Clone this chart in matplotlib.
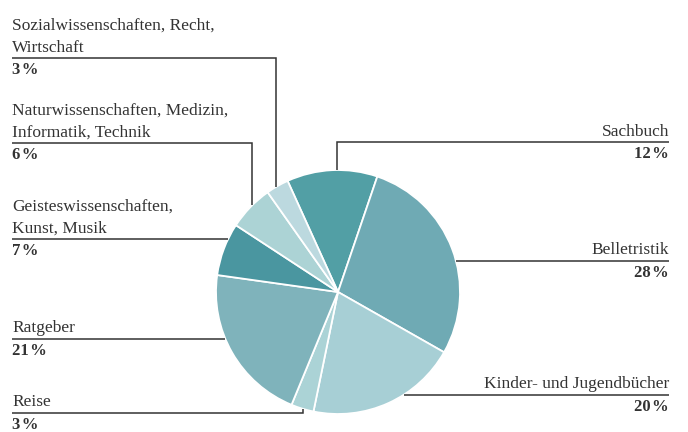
import numpy as np
import matplotlib
matplotlib.use("Agg")
import matplotlib.pyplot as plt

# Anteile der Warengruppen (im Uhrzeigersinn ab "Sachbuch")
labels = ["Sachbuch", "Belletristik", "Kinder- und Jugendbücher", "Reise", "Ratgeber",
          "Geisteswissenschaften,\nKunst, Musik",
          "Naturwissenschaften, Medizin,\nInformatik, Technik",
          "Sozialwissenschaften, Recht,\nWirtschaft"]
shares = [12, 28, 20, 3, 21, 7, 6, 3]
colors = ["#529fa5", "#6faab4", "#a7cfd5", "#abd3d6", "#7fb3bb", "#4a96a0", "#acd3d5", "#bcd9df"]

W, H = 688, 432
fig = plt.figure(figsize=(W / 100, H / 100), dpi=100)
ax = fig.add_axes([0, 0, 1, 1])

cx, cy, R = 338, H - 292, 122
ax.pie(shares, colors=colors, startangle=114.4, counterclock=False,
       center=(cx, cy), radius=R,
       wedgeprops=dict(edgecolor="white", linewidth=1.3))
ax.set_xlim(0, W)
ax.set_ylim(0, H)
ax.set_aspect("equal")
ax.axis("off")

FONT = ["Liberation Serif", "DejaVu Serif"]
TXT = "#333333"
LINE = "#333333"


def edge_y(x, top=True):
    d = np.sqrt(R ** 2 - (x - cx) ** 2)
    return cy + d if top else cy - d


def edge_x(y, left=True):
    d = np.sqrt(R ** 2 - (y - cy) ** 2)
    return cx - d if left else cx + d


# Layout je Beschriftung: (Linienhöhe px, Seite, Knick-x oder None, Knick oben/unten)
layout = {
    "Sachbuch": (141.5, "right", 337, True),
    "Belletristik": (260.5, "right", None, None),
    "Kinder- und Jugendbücher": (394.5, "right", None, None),
    "Reise": (412.5, "left", 303, False),
    "Ratgeber": (338.5, "left", None, None),
    "Geisteswissenschaften,\nKunst, Musik": (238.5, "left", None, None),
    "Naturwissenschaften, Medizin,\nInformatik, Technik": (142.5, "left", 252, True),
    "Sozialwissenschaften, Recht,\nWirtschaft": (57.5, "left", 276, True),
}

XL, XR = 12, 669
for lab, val in zip(labels, shares):
    ly, side, kx, top = layout[lab]
    y = H - ly
    if kx is not None:
        ey = edge_y(kx, top)
        if side == "left":
            xs, ys = [XL, kx, kx], [y, y, ey]
        else:
            xs, ys = [XR, kx, kx], [y, y, ey]
    else:
        if side == "left":
            xs, ys = [XL, edge_x(y, True)], [y, y]
        else:
            xs, ys = [XR, edge_x(y, False)], [y, y]
    ax.plot(xs, ys, color=LINE, lw=1.1, solid_capstyle="butt", solid_joinstyle="miter")

    ha = "left" if side == "left" else "right"
    tx = XL if side == "left" else XR
    ax.text(tx, y + 6, lab, ha=ha, va="baseline", fontsize=12.5, family=FONT,
            color=TXT, linespacing=1.5, multialignment=ha)
    ax.text(tx, y - 16.5, f"{val}\u200a%", ha=ha, va="baseline", fontsize=12,
            family=FONT, fontweight="bold", color=TXT)

fig.savefig("out.png", dpi=100)
